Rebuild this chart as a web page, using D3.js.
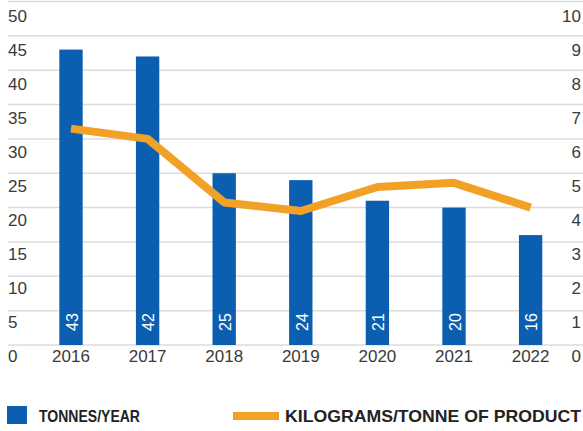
<!DOCTYPE html>
<html>
<head>
<meta charset="utf-8">
<script src="https://cdn.jsdelivr.net/npm/d3@7"></script>
<style>
  html, body { margin: 0; padding: 0; background: #fff; }
  svg { display: block; }
  text { font-family: "Liberation Sans", Arial, sans-serif; }
</style>
</head>
<body>
<svg id="chart" width="583" height="431"></svg>
<script>
// Emissions per year and intensity per tonne of product
const years = ["2016", "2017", "2018", "2019", "2020", "2021", "2022"];
const tonnesPerYear = [43, 42, 25, 24, 21, 20, 16];
const kgPerTonne = [6.3, 6.0, 4.15, 3.9, 4.6, 4.72, 4.0];
const leftTicks = [0, 5, 10, 15, 20, 25, 30, 35, 40, 45, 50];
const rightTicks = [0, 1, 2, 3, 4, 5, 6, 7, 8, 9, 10];
const legendLabels = ["TONNES/YEAR", "KILOGRAMS/TONNE OF PRODUCT"];

const BLUE = "#0c5fb0";
const ORANGE = "#f1a126";
const GRID = "#dcdcdc";
const TEXT = "#3a3a3a";

const svg = d3.select("#chart");
const W = 583;

const x = d3.scalePoint().domain(years).range([32.7, 568.9]).padding(0.5);
const barW = x.step() * 0.305;
const yL = d3.scaleLinear().domain([0, 50]).range([345, 1.5]);
const yR = d3.scaleLinear().domain([0, 10]).range([345, 1.5]);
// tick labels sit just below their grid lines
const yLabel = d3.scaleLinear().domain([0, 50]).range([356, 15.5]);

// grid lines
svg.append("g").selectAll("line").data(leftTicks).join("line")
  .attr("x1", 8).attr("x2", W)
  .attr("y1", d => yL(d)).attr("y2", d => yL(d))
  .attr("stroke", GRID).attr("stroke-width", 1.5);

// left axis labels
svg.append("g").selectAll("text").data(leftTicks).join("text")
  .attr("x", 8).attr("y", d => yLabel(d))
  .attr("dy", "0.36em")
  .attr("font-size", 17).attr("fill", TEXT)
  .text(d => d);

// right axis labels
svg.append("g").selectAll("text").data(rightTicks).join("text")
  .attr("x", 581).attr("y", d => yLabel(d * 5))
  .attr("dy", "0.36em")
  .attr("text-anchor", "end")
  .attr("font-size", 17).attr("fill", TEXT)
  .text(d => d);

// x labels
svg.append("g").selectAll("text").data(years).join("text")
  .attr("x", d => x(d)).attr("y", yLabel(0))
  .attr("dy", "0.36em")
  .attr("text-anchor", "middle")
  .attr("font-size", 17).attr("fill", TEXT)
  .text(d => d);

// bars
const bars = years.map((yr, i) => ({ yr, v: tonnesPerYear[i] }));
svg.append("g").selectAll("rect").data(bars).join("rect")
  .attr("x", d => x(d.yr) - barW / 2)
  .attr("width", barW)
  .attr("y", d => yL(d.v))
  .attr("height", d => yL(0) - yL(d.v))
  .attr("fill", BLUE);

// value labels inside bars
svg.append("g").selectAll("text").data(bars).join("text")
  .attr("transform", d => `translate(${x(d.yr) + 1},${yL(0) - 23}) rotate(-90)`)
  .attr("text-anchor", "middle")
  .attr("dy", "0.36em")
  .attr("font-size", 16).attr("fill", "#fff")
  .text(d => d.v);

// intensity line
const pts = years.map((yr, i) => [x(yr), yR(kgPerTonne[i])]);
svg.append("path")
  .attr("d", d3.line()(pts))
  .attr("fill", "none")
  .attr("stroke", ORANGE)
  .attr("stroke-width", 8)
  .attr("stroke-linejoin", "round")
  .attr("stroke-linecap", "butt");

// legend
const lg = svg.append("g");
lg.append("rect").attr("x", 7).attr("y", 406).attr("width", 20).attr("height", 18).attr("fill", BLUE);
lg.append("text").attr("x", 39).attr("y", 416.5).attr("dy", "0.36em")
  .attr("font-weight", "bold").attr("font-size", 16.5).attr("fill", "#222")
  .attr("textLength", 101).attr("lengthAdjust", "spacingAndGlyphs")
  .text(legendLabels[0]);
lg.append("line").attr("x1", 233).attr("x2", 279).attr("y1", 416).attr("y2", 416)
  .attr("stroke", ORANGE).attr("stroke-width", 8);
lg.append("text").attr("x", 285).attr("y", 416.5).attr("dy", "0.36em")
  .attr("font-weight", "bold").attr("font-size", 16.5).attr("fill", "#222")
  .attr("textLength", 296).attr("lengthAdjust", "spacingAndGlyphs")
  .text(legendLabels[1]);
</script>
</body>
</html>
